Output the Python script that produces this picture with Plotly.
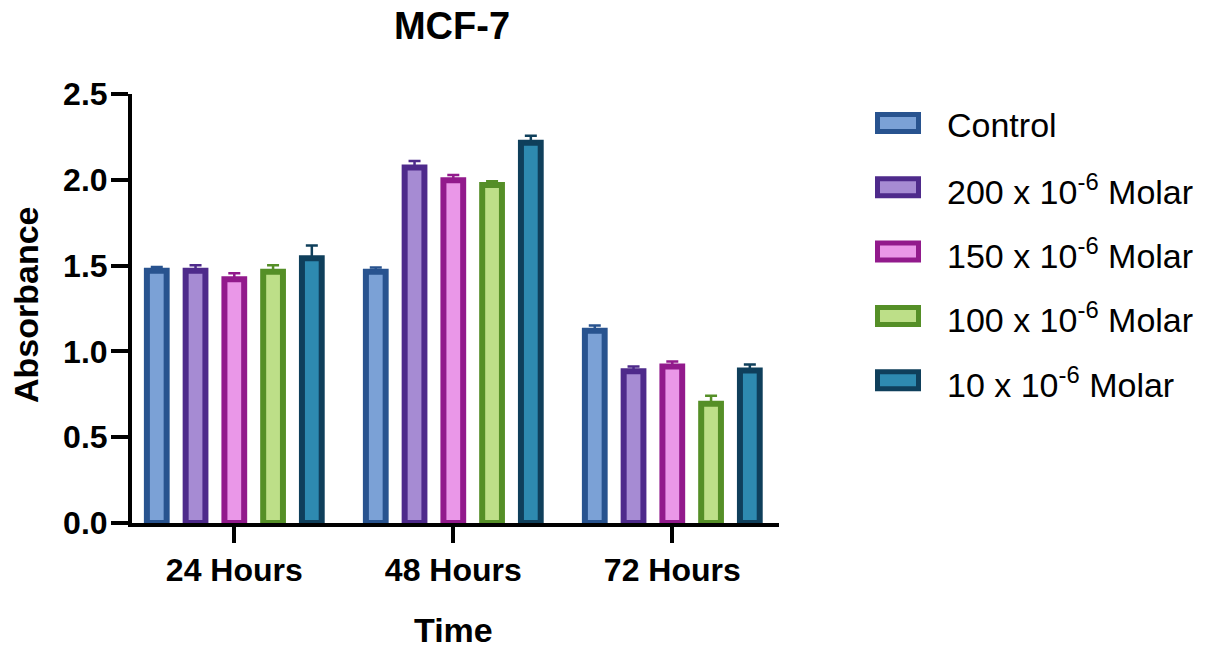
import plotly.graph_objects as go

# ---- data ----
times = ["24 Hours", "48 Hours", "72 Hours"]
series_names = ["Control", "200 x 10<sup>-6</sup> Molar", "150 x 10<sup>-6</sup> Molar",
                "100 x 10<sup>-6</sup> Molar", "10 x 10<sup>-6</sup> Molar"]
control = [1.470, 1.464, 1.121]
m200 = [1.470, 2.072, 0.885]
m150 = [1.421, 1.997, 0.912]
m100 = [1.464, 1.970, 0.695]
m10 = [1.543, 2.216, 0.889]
err_control = [0.022, 0.025, 0.030]
err_m200 = [0.032, 0.037, 0.027]
err_m150 = [0.035, 0.031, 0.029]
err_m100 = [0.038, 0.022, 0.047]
err_m10 = [0.074, 0.040, 0.035]
yticks = [0.0, 0.5, 1.0, 1.5, 2.0, 2.5]

values = [control, m200, m150, m100, m10]
errors = [err_control, err_m200, err_m150, err_m100, err_m10]
edge_colors = ["#28538F", "#4E2A8B", "#921A8C", "#558F27", "#0F3F5B"]
fill_colors = ["#7BA1D6", "#A68BD3", "#EA97E8", "#BDDF88", "#2E8AB0"]

# page body has an 8px margin; work in reference (window) pixels and convert
OFF = 8
W, H = 1228 - OFF, 649 - OFF
PL, PR, PT, PB = 132, 779, 94, 523          # plot area in window pixels
L, R, T, B = PL - OFF, W - (PR - OFF), PT - OFF, H - (PB - OFF)

FONT = "Arial, Liberation Sans, sans-serif"

fig = go.Figure()
for name, v, e, ec, fc in zip(series_names, values, errors, edge_colors, fill_colors):
    fig.add_trace(go.Bar(
        x=times, y=v, name=name,
        marker=dict(color=fc, line=dict(color=ec, width=6)),
        error_y=dict(type="data", array=e, arrayminus=[0] * len(e), symmetric=False,
                     color=ec, thickness=2.5, width=6),
        showlegend=False,
    ))

def px2paper_x(px):
    return (px - PL) / (PR - PL)

def px2paper_y(py):
    return (PB - py) / (PB - PT)

# custom legend
shapes = []
annotations = []
leg_y0 = 123
leg_dy = 64.3
for i, (name, ec, fc) in enumerate(zip(series_names, edge_colors, fill_colors)):
    cy = leg_y0 + i * leg_dy
    shapes.append(dict(type="rect", xref="paper", yref="paper",
                       x0=px2paper_x(877.5), x1=px2paper_x(918.5),
                       y0=px2paper_y(cy + 8.5), y1=px2paper_y(cy - 8.5),
                       fillcolor=fc, line=dict(color=ec, width=5)))
    annotations.append(dict(xref="paper", yref="paper", x=px2paper_x(945), y=px2paper_y(cy + 2),
                            xanchor="left", yanchor="middle", showarrow=False, text=name,
                            font=dict(family=FONT, size=34, color="black")))

# axis titles
annotations.append(dict(xref="paper", yref="paper", x=px2paper_x(26), y=px2paper_y(305),
                        xanchor="center", yanchor="middle", showarrow=False, text="Absorbance",
                        textangle=-90, font=dict(family=FONT, size=34, color="black", weight="bold")))
annotations.append(dict(xref="paper", yref="paper", x=px2paper_x(453), y=px2paper_y(630),
                        xanchor="center", yanchor="middle", showarrow=False, text="Time",
                        font=dict(family=FONT, size=34, color="black", weight="bold")))

fig.update_layout(
    width=W, height=H,
    margin=dict(l=L, r=R, t=T, b=B, pad=0),
    paper_bgcolor="white", plot_bgcolor="white",
    barmode="group", bargap=0.115, bargroupgap=0.49,
    title=dict(text="MCF-7", x=px2paper_x(452), xref="paper", xanchor="center",
               y=1 - (26 - OFF) / H, yref="container", yanchor="middle",
               font=dict(family=FONT, size=38, color="black", weight="bold")),
    shapes=shapes, annotations=annotations,
    xaxis=dict(range=[(PL - 234.3) / 219, (PR - 234.3) / 219], showgrid=False, zeroline=False,
               showline=True, linecolor="black", linewidth=4,
               ticks="outside", ticklen=16, tickwidth=4, tickcolor="black",
               tickfont=dict(family=FONT, size=32, color="black", weight="bold")),
    yaxis=dict(range=[0, 2.5], tickvals=yticks, tickformat=".1f", showgrid=False, zeroline=False,
               showline=True, linecolor="black", linewidth=4,
               ticks="outside", ticklen=17, tickwidth=4, tickcolor="black",
               ticklabelstandoff=-3,
               tickfont=dict(family=FONT, size=32, color="black", weight="bold")),
)

fig.write_html("out.html")
